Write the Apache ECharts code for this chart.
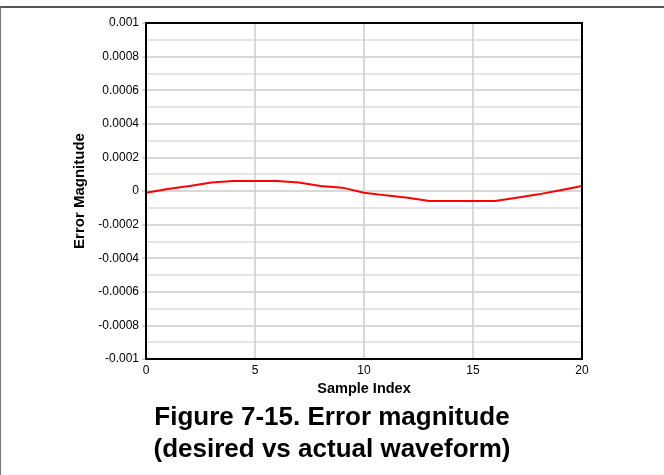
<!DOCTYPE html>
<html>
<head>
<meta charset="utf-8">
<script src="https://cdn.jsdelivr.net/npm/echarts@6/dist/echarts.min.js"></script>
<style>
html,body{margin:0;padding:0;background:#fff;}
#c{width:664px;height:475px;}
</style>
</head>
<body>
<div id="c"></div>
<script>
const sampleIndex = [0,1,2,3,4,5,6,7,8,9,10,11,12,13,14,15,16,17,18,19,20];
const errorMagnitude = [-0.00001,0.000012,0.00003,0.00005,0.00006,0.00006,0.00006,0.00005,0.00003,0.00002,-0.00001,-0.000026,-0.00004,-0.00006,-0.00006,-0.00006,-0.00006,-0.00004,-0.00002,0.000005,0.00003];
const yTickLabels = {'-0.001':'-0.001','-0.0008':'-0.0008','-0.0006':'-0.0006','-0.0004':'-0.0004','-0.0002':'-0.0002','0':'0','0.0002':'0.0002','0.0004':'0.0004','0.0006':'0.0006','0.0008':'0.0008','0.001':'0.001'};
const titleLines = ['Figure 7-15. Error magnitude', '(desired vs actual waveform)'];

const G = {left:146, top:23, width:436, height:336};
const FONT = 'Liberation Sans, Arial, sans-serif';

const chart = echarts.init(document.getElementById('c'));
const data = sampleIndex.map((x,i)=>[x, errorMagnitude[i]]);
chart.setOption({
  animation:false,
  backgroundColor:'#fff',
  graphic:[
    {type:'line', shape:{x1:0,y1:7,x2:664,y2:7}, style:{stroke:'#555',lineWidth:2}},
    {type:'line', shape:{x1:0.5,y1:7,x2:0.5,y2:475}, style:{stroke:'#777',lineWidth:1}},
    {type:'rect', z:100, shape:{x:G.left, y:G.top, width:G.width, height:G.height}, style:{fill:'none', stroke:'#000', lineWidth:2}},
    {type:'text', z:100, x:332, y:402, style:{text:titleLines.join('\n'), font:'bold 26px ' + FONT, fill:'#000', align:'center', verticalAlign:'top', lineHeight:32}}
  ],
  grid:{left:G.left, top:G.top, width:G.width, height:G.height, show:false},
  xAxis:{
    type:'value', min:0, max:20, interval:5,
    name:'Sample Index', nameLocation:'middle', nameGap:20,
    nameTextStyle:{fontFamily:FONT, fontWeight:'bold', fontSize:14.5, color:'#000'},
    axisLine:{show:false},
    axisTick:{show:false},
    axisLabel:{fontFamily:FONT, fontSize:12, color:'#000', margin:6},
    splitLine:{show:true, lineStyle:{color:'#ccc', width:1.5}}
  },
  yAxis:{
    type:'value', min:-0.001, max:0.001, interval:0.0002,
    name:'Error Magnitude', nameLocation:'middle', nameGap:56,
    nameTextStyle:{fontFamily:FONT, fontWeight:'bold', fontSize:15, color:'#000'},
    axisLine:{show:false},
    axisTick:{show:true, length:4, inside:false, lineStyle:{color:'#ccc', width:1.5}},
    axisLabel:{fontFamily:FONT, fontSize:12, color:'#000', margin:7,
      formatter:v=>{ const k = String(parseFloat(v.toPrecision(6))); return yTickLabels[k] !== undefined ? yTickLabels[k] : k; }},
    splitLine:{show:true, lineStyle:{color:'#ccc', width:1.5}},
    minorTick:{show:false, splitNumber:2},
    minorSplitLine:{show:true, lineStyle:{color:'#ddd', width:1.5}}
  },
  series:[{
    type:'line', data:data, showSymbol:false, symbol:'none',
    lineStyle:{color:'#ff0000', width:2}, z:5
  }]
});
</script>
</body>
</html>
